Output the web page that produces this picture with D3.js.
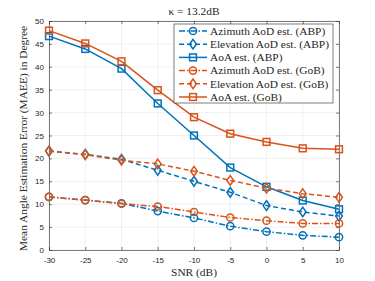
<!DOCTYPE html>
<html>
<head>
<meta charset="utf-8">
<script src="https://cdn.jsdelivr.net/npm/d3@7"></script>
<style>
  body { margin: 0; background: #fff; }
  svg { display: block; }
  .tick text { font-family: "Liberation Sans", Arial, sans-serif; font-size: 8px; fill: #262626; }
  .lbl { font-family: "Liberation Serif", "DejaVu Serif", serif; fill: #262626; }
</style>
</head>
<body>
<svg id="chart" width="375" height="281"></svg>
<script>
// SNR values and MAEE per method
var snr = [-30, -25, -20, -15, -10, -5, 0, 5, 10];
var azABP = [11.6, 10.9, 10.2, 8.5, 7.0, 5.2, 4.0, 3.2, 2.8];
var elABP = [21.6, 20.9, 19.8, 17.4, 15.0, 12.6, 9.7, 8.3, 7.4];
var aoaABP = [46.7, 43.9, 39.6, 32.0, 25.0, 18.0, 13.8, 10.8, 8.9];
var azGoB = [11.6, 10.9, 10.1, 9.5, 8.3, 7.1, 6.4, 5.8, 5.8];
var elGoB = [21.6, 20.8, 19.6, 18.8, 17.2, 15.2, 13.5, 12.3, 11.5];
var aoaGoB = [47.9, 45.1, 41.2, 34.9, 29.0, 25.4, 23.6, 22.2, 22.0];
var xTicks = [-30, -25, -20, -15, -10, -5, 0, 5, 10];
var yTicks = [0, 5, 10, 15, 20, 25, 30, 35, 40, 45, 50];

var blue = '#0072BD', orange = '#D95319';

var series = [
  {name: 'Azimuth AoD est. (ABP)', v: azABP, c: blue, dash: '6,2,1.5,2', m: 'circle'},
  {name: 'Elevation AoD est. (ABP)', v: elABP, c: blue, dash: '5,3', m: 'diamond'},
  {name: 'AoA est. (ABP)', v: aoaABP, c: blue, dash: null, m: 'square'},
  {name: 'Azimuth AoD est. (GoB)', v: azGoB, c: orange, dash: '6,2,1.5,2', m: 'circle'},
  {name: 'Elevation AoD est. (GoB)', v: elGoB, c: orange, dash: '5,3', m: 'diamond'},
  {name: 'AoA est. (GoB)', v: aoaGoB, c: orange, dash: null, m: 'square'}
];

var pL = 49, pR = 339, pT = 21, pB = 250;
var fs = 11.4;
var svg = d3.select('#chart');

var x = d3.scaleLinear().domain([-30, 10]).range([pL, pR]);
var y = d3.scaleLinear().domain([0, 50]).range([pB, pT]);

// grid
svg.append('g').selectAll('line').data(xTicks).join('line')
  .attr('x1', d => x(d)).attr('x2', d => x(d)).attr('y1', pT).attr('y2', pB)
  .attr('stroke', '#e6e6e6').attr('stroke-width', 0.6);
svg.append('g').selectAll('line').data(yTicks).join('line')
  .attr('x1', pL).attr('x2', pR).attr('y1', d => y(d)).attr('y2', d => y(d))
  .attr('stroke', '#e6e6e6').attr('stroke-width', 0.6);

// axes
svg.append('g').attr('transform', 'translate(0,' + pB + ')')
  .call(d3.axisBottom(x).tickValues(xTicks).tickSizeInner(-3).tickSizeOuter(0).tickPadding(7).tickFormat(d => String(d)));
svg.append('g').attr('transform', 'translate(' + pL + ',0)')
  .call(d3.axisLeft(y).tickValues(yTicks).tickSizeInner(-3).tickSizeOuter(0).tickPadding(5).tickFormat(d => String(d)));
svg.append('g').attr('transform', 'translate(0,' + pT + ')')
  .call(d3.axisTop(x).tickValues(xTicks).tickSizeInner(-3).tickSizeOuter(0).tickFormat(''));
svg.append('g').attr('transform', 'translate(' + pR + ',0)')
  .call(d3.axisRight(y).tickValues(yTicks).tickSizeInner(-3).tickSizeOuter(0).tickFormat(''));
svg.selectAll('.domain').attr('stroke', '#262626').attr('stroke-width', 0.6);
svg.selectAll('.tick line').attr('stroke', '#262626').attr('stroke-width', 0.6);

// labels
svg.append('text').attr('class', 'lbl').attr('x', (pL + pR) / 2).attr('y', 15)
  .attr('text-anchor', 'middle').attr('font-size', fs).text('\u03BA = 13.2dB');
svg.append('text').attr('class', 'lbl').attr('x', (pL + pR) / 2).attr('y', 276)
  .attr('text-anchor', 'middle').attr('font-size', fs).text('SNR (dB)');
svg.append('text').attr('class', 'lbl')
  .attr('transform', 'translate(27,' + ((pT + pB) / 2 + 3) + ') rotate(-90)')
  .attr('text-anchor', 'middle').attr('font-size', fs)
  .text('Mean Angle Estimation Error (MAEE) in Degree');

var line = d3.line().x((d, i) => x(snr[i])).y(d => y(d));

function marker(g, type, cx, cy, c) {
  if (type === 'circle') {
    g.append('circle').attr('cx', cx).attr('cy', cy).attr('r', 3.6)
      .attr('fill', 'none').attr('stroke', c).attr('stroke-width', 1.5);
  } else if (type === 'square') {
    g.append('rect').attr('x', cx - 3.4).attr('y', cy - 3.4).attr('width', 6.8).attr('height', 6.8)
      .attr('fill', 'none').attr('stroke', c).attr('stroke-width', 1.5);
  } else {
    g.append('path').attr('d', 'M' + cx + ',' + (cy - 4.8) + 'L' + (cx + 3.4) + ',' + cy +
      'L' + cx + ',' + (cy + 4.8) + 'L' + (cx - 3.4) + ',' + cy + 'Z')
      .attr('fill', 'none').attr('stroke', c).attr('stroke-width', 1.5);
  }
}

series.forEach(function(s) {
  var g = svg.append('g');
  g.append('path').attr('d', line(s.v)).attr('fill', 'none').attr('stroke', s.c)
    .attr('stroke-width', 1.5).attr('stroke-dasharray', s.dash);
  s.v.forEach(function(v, i) { marker(g, s.m, x(snr[i]), y(v), s.c); });
});

// legend
var lg = svg.append('g');
lg.append('rect').attr('x', 174).attr('y', 24).attr('width', 159).attr('height', 79)
  .attr('fill', '#fff').attr('stroke', '#262626').attr('stroke-width', 0.6);
series.forEach(function(s, i) {
  var ly = 31 + i * 13.2;
  lg.append('line').attr('x1', 179).attr('x2', 207).attr('y1', ly).attr('y2', ly)
    .attr('stroke', s.c).attr('stroke-width', 1.5).attr('stroke-dasharray', s.dash);
  marker(lg, s.m, 193, ly, s.c);
  lg.append('text').attr('class', 'lbl').attr('x', 210).attr('y', ly + 3.8)
    .attr('font-size', fs).text(s.name);
});
</script>
</body>
</html>
